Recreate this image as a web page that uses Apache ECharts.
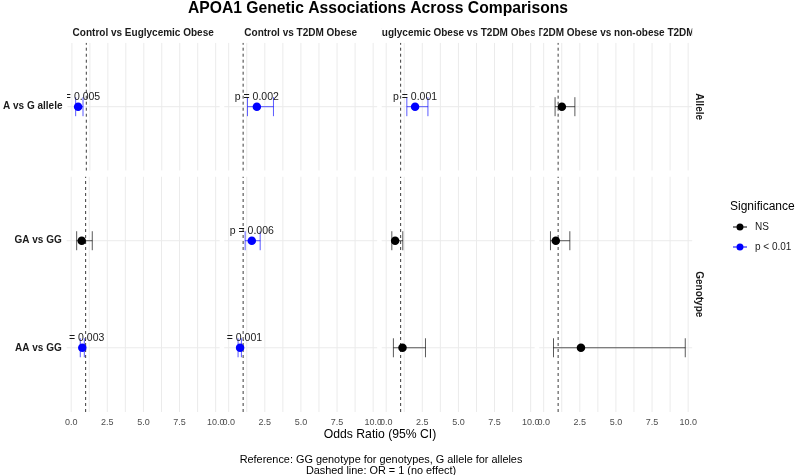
<!DOCTYPE html>
<html><head><meta charset="utf-8">
<script src="https://cdn.jsdelivr.net/npm/echarts@6/dist/echarts.min.js"></script>
<style>html,body{margin:0;padding:0;background:#fff}#c{width:797px;height:475px}</style>
</head><body><div id="c"></div><script>
// ---------------- data ----------------
const comparisons = ['Control vs Euglycemic Obese', 'Control vs T2DM Obese', 'Euglycemic Obese vs T2DM Obese', 'T2DM Obese vs non-obese T2DM'];
const facetRows = ['Allele', 'Genotype'];
const contrasts = ['A vs G allele', 'GA vs GG', 'AA vs GG'];
const contrastRow = [0, 1, 1];          // which facet row each contrast belongs to
const contrastPos = [1, 2, 1];          // category slot inside its facet row
const rowCategories = [['A vs G allele'], ['AA vs GG', 'GA vs GG']];
// rows = contrasts, columns = comparisons
const oddsRatio = [[0.43, 1.95, 2.00, 1.26], [0.73, 1.60, 0.62, 0.84], [0.77, 0.79, 1.13, 2.58]];
const ciLower   = [[0.26, 1.30, 1.43, 0.79], [0.38, 1.14, 0.39, 0.47], [0.63, 0.65, 0.50, 0.68]];
const ciUpper   = [[0.77, 3.10, 2.89, 2.16], [1.46, 2.18, 1.15, 1.81], [0.91, 0.88, 2.72, 9.80]];
const pText = [['p = 0.005', 'p = 0.002', 'p = 0.001', ''], ['', 'p = 0.006', '', ''], ['p = 0.003', 'p = 0.001', '', '']];
const significance = [['p < 0.01', 'p < 0.01', 'p < 0.01', 'NS'], ['NS', 'p < 0.01', 'NS', 'NS'], ['p < 0.01', 'p < 0.01', 'NS', 'NS']];
const sigLevels = ['NS', 'p < 0.01'];
const xTicks = [0, 2.5, 5, 7.5, 10];
const xGridLines = [0, 1.25, 2.5, 3.75, 5, 6.25, 7.5, 8.75, 10];
const refLine = 1;
const titleText = 'APOA1 Genetic Associations Across Comparisons';
const xTitle = 'Odds Ratio (95% CI)';
const captionLines = ['Reference: GG genotype for genotypes, G allele for alleles', 'Dashed line: OR = 1 (no effect)'];
const legendTitle = 'Significance';

// ---------------- layout / style ----------------
const FONT = '"Liberation Sans", Arial, Helvetica, sans-serif';
const colLeft = [66.7, 224.2, 381.7, 539.2];
const panelW = 153;
const rowTop = [42.7, 176.5];
const rowH = [128, 235.5];
const xMin = -0.31, xMax = 10.28;
const yMin = [0.4, 0.4], yMax = [1.6, 2.6];
const sigColor = {'NS': '#000000', 'p < 0.01': '#0000ff'};
const barColor = {'NS': 'rgba(0,0,0,0.65)', 'p < 0.01': 'rgba(0,0,255,0.65)'};
const legendIcon = 'path://M0,3.05L14,3.05L14,3.95L0,3.95Z M7,0A3.5,3.5,0,1,1,6.99,0Z';

const grids = [], xAxes = [], yAxes = [], series = [];
for (let r = 0; r < facetRows.length; r++) {
  for (let c = 0; c < comparisons.length; c++) {
    const g = grids.length;
    grids.push({left: colLeft[c], top: rowTop[r], width: panelW, height: rowH[r], containLabel: false});
    xAxes.push({
      type: 'value', gridIndex: g, min: xMin, max: xMax,
      axisLine: {show: false}, axisTick: {show: false}, splitLine: {show: false},
      axisLabel: {show: r === facetRows.length - 1, customValues: xTicks, margin: 6.5,
        formatter: v => v.toFixed(1), fontFamily: FONT, fontSize: 9, color: '#4d4d4d'}
    });
    const cats = rowCategories[r];
    yAxes.push({
      type: 'value', gridIndex: g, min: yMin[r], max: yMax[r],
      axisLine: {show: false}, axisTick: {show: false}, splitLine: {show: false},
      axisLabel: {show: c === 0, customValues: cats.map((_, i) => i + 1), margin: 5,
        formatter: v => cats[Math.round(v) - 1] || '', fontFamily: FONT, fontSize: 10,
        fontWeight: 'bold', color: '#1a1a1a'}
    });
    // grid lines + reference line
    const gl = [];
    xGridLines.forEach(v => gl.push([v, 0, 0]));
    cats.forEach((_, i) => gl.push([0, i + 1, 1]));
    gl.push([refLine, 0, 2]);
    const yr = [yMin[r], yMax[r]], xr = [xMin, xMax];
    series.push({
      type: 'custom', xAxisIndex: g, yAxisIndex: g, silent: true, clip: true, z: 1,
      data: gl, encode: {x: 0, y: 1},
      renderItem: (params, api) => {
        const kind = api.value(2);
        if (kind === 1) {
          const a = api.coord([xr[0], api.value(1)]), b = api.coord([xr[1], api.value(1)]);
          return {type: 'line', shape: {x1: a[0], y1: a[1], x2: b[0], y2: b[1]}, style: {stroke: '#ebebeb', lineWidth: 1}};
        }
        const a = api.coord([api.value(0), yr[0]]), b = api.coord([api.value(0), yr[1]]);
        if (kind === 2) {
          return {type: 'line', z2: 5, shape: {x1: a[0], y1: a[1], x2: b[0], y2: b[1]}, style: {stroke: '#3d3d3d', lineWidth: 1, lineDash: [3, 3]}};
        }
        return {type: 'line', shape: {x1: a[0], y1: a[1], x2: b[0], y2: b[1]}, style: {stroke: '#ebebeb', lineWidth: 1}};
      }
    });
    // error bars
    const eb = [], ebCol = [], pts = {}, lab = [], labText = [];
    sigLevels.forEach(s => pts[s] = []);
    contrasts.forEach((_, k) => {
      if (contrastRow[k] !== r) return;
      const s = significance[k][c];
      eb.push([ciLower[k][c], ciUpper[k][c], contrastPos[k]]);
      ebCol.push(barColor[s]);
      pts[s].push([oddsRatio[k][c], contrastPos[k]]);
      if (pText[k][c]) { lab.push([oddsRatio[k][c], contrastPos[k]]); labText.push(pText[k][c]); }
    });
    series.push({
      type: 'custom', xAxisIndex: g, yAxisIndex: g, silent: true, clip: true, z: 3,
      data: eb, encode: {x: [0, 1], y: 2},
      renderItem: (params, api) => {
        const y = api.value(2);
        const a = api.coord([api.value(0), y]), b = api.coord([api.value(1), y]);
        const st = {stroke: ebCol[params.dataIndex], lineWidth: 1};
        const h = 9.5;
        return {type: 'group', children: [
          {type: 'line', shape: {x1: a[0], y1: a[1], x2: b[0], y2: b[1]}, style: st},
          {type: 'line', shape: {x1: a[0], y1: a[1] - h, x2: a[0], y2: a[1] + h}, style: st},
          {type: 'line', shape: {x1: b[0], y1: b[1] - h, x2: b[0], y2: b[1] + h}, style: st}
        ]};
      }
    });
    sigLevels.forEach(s => {
      series.push({
        type: 'scatter', name: s, xAxisIndex: g, yAxisIndex: g, z: 4, silent: true,
        symbol: 'circle', symbolSize: 8.5, itemStyle: {color: sigColor[s], opacity: 1},
        data: pts[s]
      });
    });
    if (lab.length) {
      series.push({
        type: 'custom', xAxisIndex: g, yAxisIndex: g, silent: true, clip: true, z: 5,
        data: lab, encode: {x: 0, y: 1},
        renderItem: (params, api) => {
          const p = api.coord([api.value(0), api.value(1)]);
          return {type: 'text', x: p[0], y: p[1] - 10,
            style: {text: labText[params.dataIndex], fontFamily: FONT, fontSize: 10.5, fill: '#1a1a1a', align: 'center', verticalAlign: 'middle'}};
        }
      });
    }
  }
}
// column strip titles, clipped to panel width
series.push({
  type: 'custom', coordinateSystem: 'none', silent: true, z: 6,
  data: comparisons.map((_, i) => [i]),
  renderItem: (params, api) => {
    const i = params.dataIndex;
    return {type: 'group', clipPath: {type: 'rect', shape: {x: colLeft[i], y: 20, width: panelW, height: 25}},
      children: [{type: 'text', x: colLeft[i] + panelW / 2, y: 33,
        style: {text: comparisons[i], fontFamily: FONT, fontSize: 10, fontWeight: 'bold', fill: '#1a1a1a', align: 'center', verticalAlign: 'middle'}}]};
  }
});

const graphics = [];
facetRows.forEach((name, r) => {
  graphics.push({type: 'text', x: 699, y: rowTop[r] + rowH[r] / 2, rotation: -Math.PI / 2,
    style: {text: name, fontFamily: FONT, fontSize: 10, fontWeight: 'bold', fill: '#1a1a1a', align: 'center', verticalAlign: 'middle'}});
});
graphics.push({type: 'text', x: 380, y: 435, style: {text: xTitle, fontFamily: FONT, fontSize: 12.2, fill: '#000', align: 'center', verticalAlign: 'middle'}});
captionLines.forEach((t, i) => graphics.push({type: 'text', x: 381, y: 459.5 + i * 11,
  style: {text: t, fontFamily: FONT, fontSize: 10.9, fill: '#000', align: 'center', verticalAlign: 'middle'}}));
graphics.push({type: 'text', x: 730, y: 206.7, style: {text: legendTitle, fontFamily: FONT, fontSize: 12, fill: '#000', align: 'left', verticalAlign: 'middle'}});

const chart = echarts.init(document.getElementById('c'), null, {renderer: 'canvas'});
chart.setOption({
  animation: false,
  backgroundColor: '#ffffff',
  title: {text: titleText, left: 378, top: 1, textAlign: 'center', padding: 0,
    textStyle: {fontFamily: FONT, fontSize: 15.7, fontWeight: 'bold', color: '#000'}},
  legend: {orient: 'vertical', left: 733, top: 221, padding: 0, itemWidth: 14, itemHeight: 7, itemGap: 8,
    selectedMode: false, data: sigLevels.map(s => ({name: s, icon: legendIcon})),
    textStyle: {fontFamily: FONT, fontSize: 10, color: '#1a1a1a', lineHeight: 12, padding: [0, 0, 0, 3]}},
  grid: grids, xAxis: xAxes, yAxis: yAxes, series: series, graphic: graphics
});
</script></body></html>
